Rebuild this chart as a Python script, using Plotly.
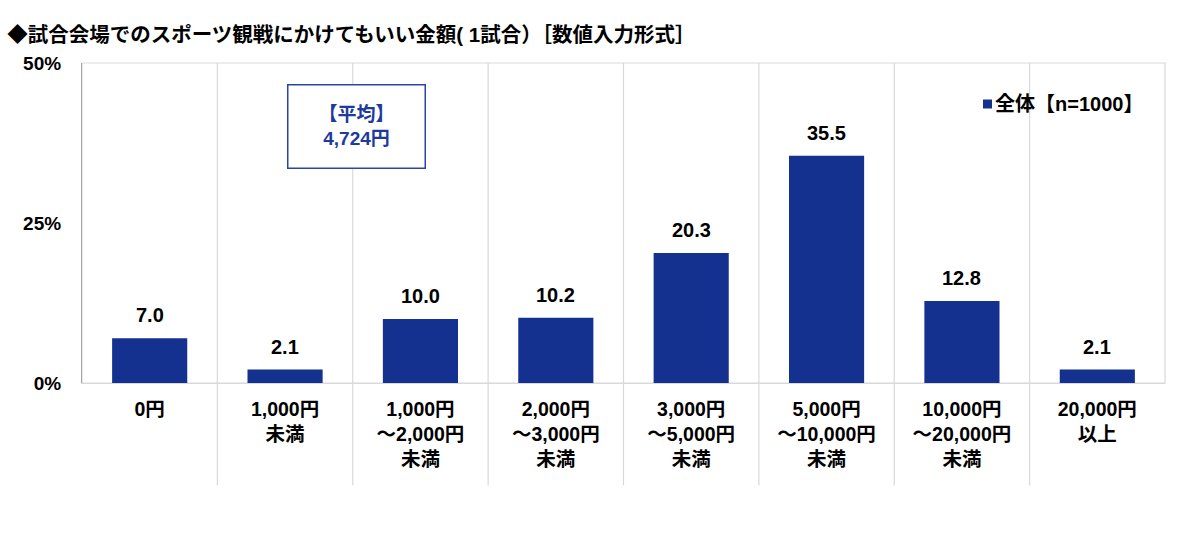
import plotly.graph_objects as go

categories = ["0円", "1,000円<br>未満", "1,000円<br>～2,000円<br>未満", "2,000円<br>～3,000円<br>未満",
              "3,000円<br>～5,000円<br>未満", "5,000円<br>～10,000円<br>未満", "10,000円<br>～20,000円<br>未満",
              "20,000円<br>以上"]
values = [7.0, 2.1, 10.0, 10.2, 20.3, 35.5, 12.8, 2.1]
series_name = "全体【n=1000】"
y_ticks = [0, 25, 50]
y_tick_labels = ["0%", "25%", "50%"]
title_text = "◆試合会場でのスポーツ観戦にかけてもいい金額( 1試合）［数値入力形式］"
mean_text = "【平均】<br>4,724円"

FONT = "Liberation Sans, Noto Sans CJK JP"
BAR = "#14318F"
BLUE_TXT = "#1E3A9C"
GRID = "#D9D9D9"
AXIS = "#A6A6A6"

x_idx = list(range(len(categories)))

fig = go.Figure()
fig.add_trace(go.Bar(
    x=x_idx, y=values, name=series_name, width=0.555,
    marker=dict(color=BAR, line=dict(width=0)),
    showlegend=False, hoverinfo="x+y",
))

PW, PH, PL, PB = 1083, 320, 82, 383
shapes = []
for b in range(1, len(categories)):
    shapes.append(dict(type="line", xref="x", yref="paper", x0=b - 0.5, x1=b - 0.5,
                       y0=-0.32, y1=1, line=dict(color=GRID, width=1.2), layer="below"))
shapes.append(dict(type="rect", xref="paper", yref="paper", x0=0, x1=1, y0=0, y1=1,
                   line=dict(color=GRID, width=1.2), layer="below"))
# legend swatch
shapes.append(dict(type="rect", xref="paper", yref="paper",
                   x0=(983 - PL) / PW, x1=(992 - PL) / PW,
                   y0=(PB - 108.5) / PH, y1=(PB - 99.5) / PH,
                   fillcolor=BAR, line=dict(width=0)))

annotations = []
for i, v in enumerate(values):
    annotations.append(dict(x=i, y=v, xref="x", yref="y", text=f"<b>{v:.1f}</b>",
                            showarrow=False, xanchor="center", yanchor="bottom", yshift=10,
                            font=dict(family=FONT, size=20, color="#000000")))
annotations.append(dict(text=f"<b>{mean_text}</b>", xref="paper", yref="paper",
                        x=(356.5 - PL) / PW, y=(PB - 126.5) / PH, xanchor="center", yanchor="middle",
                        showarrow=False, align="center",
                        font=dict(family=FONT, size=19, color=BLUE_TXT),
                        bordercolor="#2A44A8", borderwidth=1.5, borderpad=0,
                        width=136, height=82, bgcolor="white"))
annotations.append(dict(text=f"<b>{series_name}</b>",
                        xref="paper", yref="paper", x=(993 - PL) / PW, y=(PB - 104) / PH,
                        xanchor="left", yanchor="middle", showarrow=False,
                        font=dict(family=FONT, size=20, color="#000000")))

fig.update_layout(
    width=1200, height=548,
    margin=dict(l=82, r=35, t=63, b=165),
    paper_bgcolor="white", plot_bgcolor="white",
    font=dict(family=FONT, color="#000000"),
    title=dict(text=f"<b>{title_text}</b>", xref="container", yref="container",
               x=0.006, xanchor="left", y=1 - 35 / 548, yanchor="middle",
               font=dict(family=FONT, size=20.5, color="#000000")),
    xaxis=dict(range=[-0.5, len(categories) - 0.5], tickmode="array", tickvals=x_idx,
               ticktext=[f"<b>{c}</b>" for c in categories],
               tickfont=dict(family=FONT, size=19.5, color="#000000"),
               showgrid=False, showline=True, linecolor=GRID, linewidth=1.2,
               ticks="", ticklabelstandoff=8, zeroline=False, fixedrange=True),
    yaxis=dict(range=[0, 50], tickmode="array", tickvals=y_ticks,
               ticktext=[f"<b>{t}</b>" for t in y_tick_labels],
               tickfont=dict(family=FONT, size=19, color="#000000"),
               showgrid=False, zeroline=False, showline=True, linecolor=AXIS, linewidth=1.2,
               ticks="", ticklabelstandoff=16, fixedrange=True),
    showlegend=False,
    shapes=shapes,
    annotations=annotations,
)

fig.write_html("out.html", config={"displayModeBar": False},
               post_script="document.body.style.margin='0';")
